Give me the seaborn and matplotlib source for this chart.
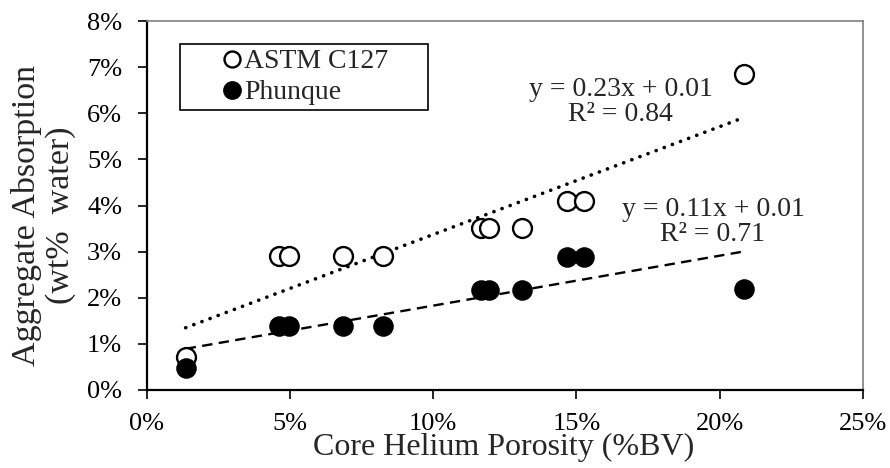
import matplotlib
matplotlib.use("Agg")
import matplotlib.pyplot as plt
import seaborn as sns
import pandas as pd
from matplotlib.ticker import PercentFormatter
from matplotlib.lines import Line2D

# Data (percent units)
porosity = [1.35, 4.62, 4.95, 6.86, 8.23, 11.65, 11.96, 13.09, 14.66, 15.26, 20.85]
astm_c127 = [0.72, 2.90, 2.90, 2.90, 2.90, 3.51, 3.51, 3.51, 4.10, 4.10, 6.85]
phunque = [0.47, 1.39, 1.39, 1.39, 1.39, 2.17, 2.17, 2.17, 2.88, 2.88, 2.20]
series_names = ["ASTM C127", "Phunque"]
eq_labels = ["y = 0.23x + 0.01\nR² = 0.84", "y = 0.11x + 0.01\nR² = 0.71"]
x_ticks = [0, 5, 10, 15, 20, 25]
y_ticks = [0, 1, 2, 3, 4, 5, 6, 7, 8]

df = pd.DataFrame({"x": porosity, "astm": astm_c127, "ph": phunque})

sns.set_style("ticks")
plt.rcParams["font.family"] = ["Liberation Serif", "DejaVu Serif"]

fig = plt.figure(figsize=(8.9, 4.68), dpi=100)
ax = fig.add_axes([147 / 890, 1 - 390 / 468, (862.7 - 147) / 890, (390 - 21) / 468])

# trendlines (least-squares fits drawn by seaborn)
sns.regplot(data=df, x="x", y="astm", scatter=False, ci=None, truncate=True, ax=ax,
            line_kws=dict(color="black", lw=2.6, linestyle=(0, (0.05, 2.35)),
                          dash_capstyle="round"))
sns.regplot(data=df, x="x", y="ph", scatter=False, ci=None, truncate=True, ax=ax,
            line_kws=dict(color="black", lw=1.7, linestyle=(0, (4.4, 2.7))))

# points
sns.scatterplot(data=df, x="x", y="astm", ax=ax, s=185, facecolor="white",
                edgecolor="black", linewidth=1.7, zorder=3, legend=False)
sns.scatterplot(data=df, x="x", y="ph", ax=ax, s=185, color="black",
                edgecolor="black", linewidth=1.2, zorder=4, legend=False)

ax.set_xlim(0, 25)
ax.set_ylim(0, 8)
ax.set_xticks(x_ticks)
ax.set_yticks(y_ticks)
ax.xaxis.set_major_formatter(PercentFormatter(decimals=0))
ax.yaxis.set_major_formatter(PercentFormatter(decimals=0))
ax.tick_params(axis="both", direction="out", length=6.5, width=1.2, labelsize=19,
               colors="black")
ax.tick_params(axis="x", pad=10)
ax.tick_params(axis="y", pad=11.5)

for side in ["left", "bottom"]:
    ax.spines[side].set_color("black")
    ax.spines[side].set_linewidth(1.6)
for side in ["top", "right"]:
    ax.spines[side].set_visible(True)
    ax.spines[side].set_color("#7f7f7f")
    ax.spines[side].set_linewidth(1.2)

ax.set_xlabel("Core Helium Porosity (%BV)", fontsize=23)
ax.xaxis.set_label_coords(0.4988, -0.117)
ax.set_ylabel("Aggregate Absorption\n(wt%  water)", fontsize=24.5, linespacing=1.15)
ax.yaxis.set_label_coords(-0.0992, 0.473)

ax.text(16.55, 6.24, eq_labels[0], ha="center", va="center", fontsize=20,
        linespacing=1.0)
ax.text(19.77, 3.64, eq_labels[1], ha="center", va="center", fontsize=20,
        linespacing=1.0)

handles = [
    Line2D([], [], marker="o", ls="none", markersize=11.5, markerfacecolor="white",
           markeredgecolor="black", markeredgewidth=1.7),
    Line2D([], [], marker="o", ls="none", markersize=12.5, markerfacecolor="black",
           markeredgecolor="black"),
]
bx0 = (180 - 147) / 715.7
bw = (428 - 180) / 715.7
btop = (390 - 44.3) / 369
leg = ax.legend(handles, series_names, loc="upper left",
                bbox_to_anchor=(bx0, btop - 0.3, bw, 0.3), mode="expand",
                fontsize=20, frameon=True, fancybox=False, edgecolor="black",
                handletextpad=-1.25, handlelength=3.4, borderpad=0.17,
                labelspacing=0.2, borderaxespad=0)
leg.get_frame().set_linewidth(1.2)
leg.get_frame().set_alpha(1)

fig.savefig("out.png", dpi=100)
